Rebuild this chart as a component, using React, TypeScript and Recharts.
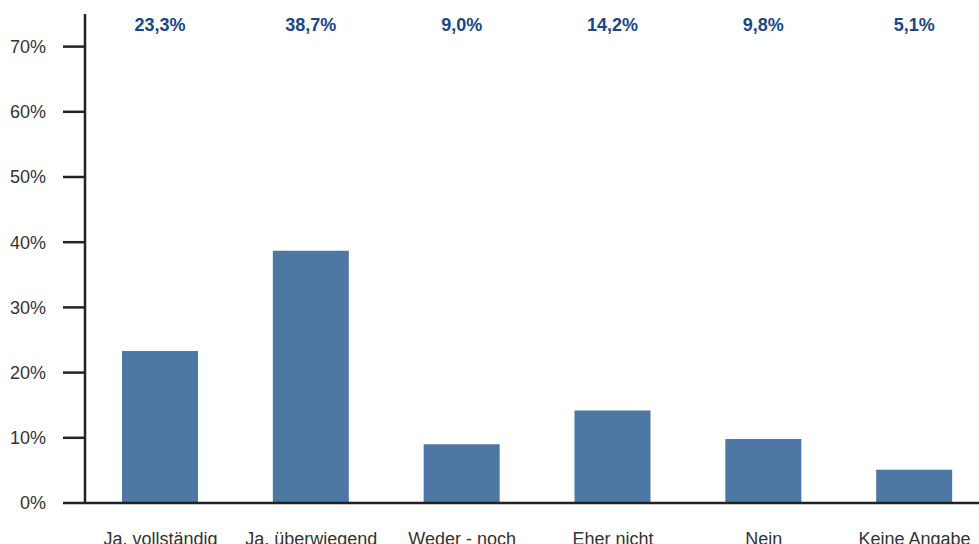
import React from "react";
import { Bar, BarChart, LabelList, XAxis, YAxis } from "recharts";

const categories = ["Ja, vollständig", "Ja, überwiegend", "Weder - noch", "Eher nicht", "Nein", "Keine Angabe"];
const shares = [23.3, 38.7, 9.0, 14.2, 9.8, 5.1];
const yTicks = [0, 10, 20, 30, 40, 50, 60, 70];

const data = categories.map((name, i) => ({ name, value: shares[i] }));

const fmt = (v: number) => v.toFixed(1).replace(".", ",") + "%";

function TopLabel(props: any) {
  const { x, width, value } = props;
  return (
    <text
      x={x + width / 2}
      y={25}
      textAnchor="middle"
      dominantBaseline="central"
      fill="#174785"
      fontWeight="bold"
      fontSize={18}
    >
      {fmt(value)}
    </text>
  );
}

export default function App() {
  return (
    <div style={{ position: "absolute", left: 0, top: 0, width: 979, height: 544, overflow: "hidden", background: "#fff" }}>
      <BarChart
        width={1000}
        height={544}
        data={data}
        margin={{ top: 14, right: 10, bottom: 0, left: 0 }}
        style={{ fontFamily: "'Liberation Sans', Arial, sans-serif" }}
      >
        <XAxis
          dataKey="name"
          height={41}
          tickLine={false}
          axisLine={{ stroke: "#222", strokeWidth: 2.5 }}
          tick={{ fill: "#333", fontSize: 18 }}
          tickMargin={23}
          interval={0}
        />
        <YAxis
          width={85}
          domain={[0, 75]}
          ticks={yTicks}
          tickFormatter={(v: number) => v + "%"}
          axisLine={{ stroke: "#222", strokeWidth: 2.5 }}
          tickLine={{ stroke: "#222", strokeWidth: 2.5 }}
          tickSize={22}
          tickMargin={17}
          tick={{ fill: "#333", fontSize: 18 }}
        />
        <Bar dataKey="value" fill="#4c78a3" barSize={76} isAnimationActive={false}>
          <LabelList dataKey="value" content={<TopLabel />} />
        </Bar>
      </BarChart>
    </div>
  );
}
